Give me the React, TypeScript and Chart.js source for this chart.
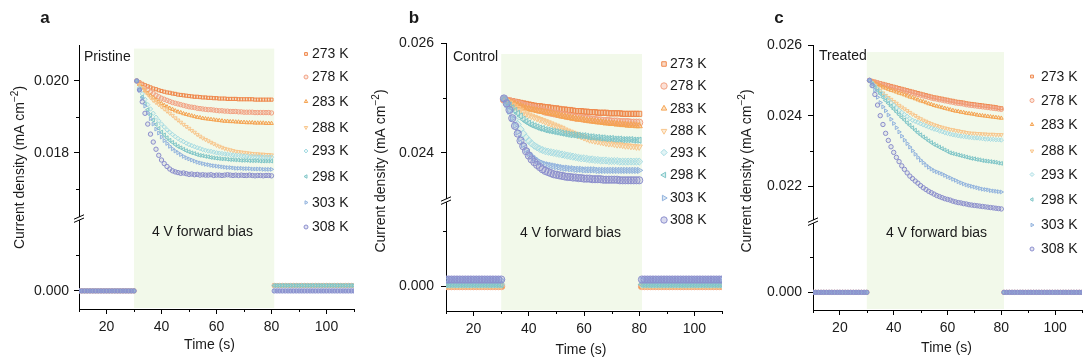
import React, { useEffect, useRef } from 'react';
import { Chart, registerables } from 'chart.js';
import { drawPoint } from 'chart.js/helpers';

Chart.register(...registerables);

const FONT = '"Liberation Sans", Arial, Helvetica, sans-serif';
const TEXT = '#1a1a1a';
const SHADE = '#F2F9EA';

// ---------- data ----------
const temperatureLabels = ['273 K', '278 K', '283 K', '288 K', '293 K', '298 K', '303 K', '308 K'];
const seriesColors = ['#EF884C', '#F2A283', '#F5A452', '#F8C68C', '#A8DCE3', '#80C6C8', '#93B4DE', '#8C8FCD'];
const markerStyles = ['rect', 'circle', 'triangle', 'triangle', 'rectRot', 'triangle', 'triangle', 'circle'];
const markerRotations = [0, 0, 0, 180, 0, -90, 90, 0];

const xTicks = [20, 40, 60, 80, 100];
const xMinorTicks = [10, 30, 50, 70, 90, 110];
const biasWindow = [30, 81];

const timeBefore = [10, 11, 12, 13, 14, 15, 16, 17, 18, 19, 20, 21, 22, 23, 24, 25, 26, 27, 28, 29, 30];
const timeBias = [
  31, 32, 33, 34, 35, 36, 37, 38, 39, 40, 41, 42, 43, 44, 45, 46, 47, 48, 49, 50,
  51, 52, 53, 54, 55, 56, 57, 58, 59, 60, 61, 62, 63, 64, 65, 66, 67, 68, 69, 70,
  71, 72, 73, 74, 75, 76, 77, 78, 79, 80,
];
const timeAfter = [
  81, 82, 83, 84, 85, 86, 87, 88, 89, 90, 91, 92, 93, 94, 95, 96, 97, 98, 99, 100,
  101, 102, 103, 104, 105, 106, 107, 108, 109, 110,
];

// current density during bias, in 10^-3 mA cm^-2
const pristine273 = [
  20.00, 19.96, 19.92, 19.88, 19.85, 19.82, 19.79, 19.77, 19.74, 19.72,
  19.70, 19.68, 19.67, 19.65, 19.64, 19.62, 19.61, 19.60, 19.59, 19.58,
  19.57, 19.56, 19.56, 19.55, 19.54, 19.54, 19.53, 19.53, 19.52, 19.52,
  19.51, 19.51, 19.51, 19.50, 19.50, 19.50, 19.50, 19.49, 19.49, 19.49,
  19.49, 19.49, 19.49, 19.48, 19.48, 19.48, 19.48, 19.48, 19.48, 19.48,
];
const pristine278 = [
  20.00, 19.93, 19.86, 19.80, 19.75, 19.69, 19.65, 19.60, 19.56, 19.52,
  19.49, 19.46, 19.43, 19.40, 19.38, 19.36, 19.34, 19.32, 19.30, 19.28,
  19.27, 19.26, 19.24, 19.23, 19.22, 19.21, 19.20, 19.20, 19.19, 19.18,
  19.17, 19.17, 19.16, 19.16, 19.15, 19.15, 19.15, 19.14, 19.14, 19.13,
  19.13, 19.13, 19.13, 19.12, 19.12, 19.12, 19.12, 19.12, 19.12, 19.11,
];
const pristine283 = [
  20.00, 19.90, 19.82, 19.73, 19.66, 19.59, 19.53, 19.47, 19.42, 19.37,
  19.32, 19.28, 19.24, 19.21, 19.17, 19.14, 19.12, 19.09, 19.07, 19.05,
  19.03, 19.01, 18.99, 18.98, 18.96, 18.95, 18.94, 18.93, 18.92, 18.91,
  18.90, 18.89, 18.88, 18.88, 18.87, 18.87, 18.86, 18.86, 18.85, 18.85,
  18.84, 18.84, 18.84, 18.83, 18.83, 18.83, 18.83, 18.82, 18.82, 18.82,
];
const pristine288 = [
  20.00, 19.90, 19.81, 19.72, 19.63, 19.54, 19.46, 19.40, 19.34, 19.28,
  19.22, 19.16, 19.10, 19.04, 18.97, 18.91, 18.85, 18.79, 18.73, 18.68,
  18.62, 18.57, 18.51, 18.46, 18.41, 18.37, 18.33, 18.29, 18.25, 18.21,
  18.18, 18.15, 18.12, 18.10, 18.08, 18.06, 18.04, 18.03, 18.02, 18.01,
  18.00, 17.99, 17.98, 17.97, 17.97, 17.96, 17.96, 17.95, 17.95, 17.94,
];
const pristine293 = [
  20.00, 19.81, 19.64, 19.49, 19.34, 19.22, 19.10, 18.99, 18.89, 18.80,
  18.72, 18.64, 18.57, 18.51, 18.45, 18.40, 18.35, 18.31, 18.27, 18.23,
  18.20, 18.17, 18.14, 18.12, 18.09, 18.07, 18.05, 18.04, 18.02, 18.00,
  17.99, 17.98, 17.97, 17.96, 17.95, 17.94, 17.93, 17.93, 17.92, 17.91,
  17.91, 17.90, 17.90, 17.89, 17.89, 17.89, 17.88, 17.88, 17.88, 17.88,
];
const pristine298 = [
  20.00, 19.76, 19.55, 19.37, 19.20, 19.05, 18.91, 18.79, 18.68, 18.58,
  18.50, 18.42, 18.35, 18.29, 18.23, 18.18, 18.14, 18.10, 18.06, 18.03,
  18.00, 17.98, 17.95, 17.93, 17.92, 17.90, 17.89, 17.87, 17.86, 17.85,
  17.84, 17.83, 17.83, 17.82, 17.81, 17.81, 17.80, 17.80, 17.79, 17.79,
  17.79, 17.78, 17.78, 17.78, 17.78, 17.77, 17.77, 17.77, 17.77, 17.77,
];
const pristine303 = [
  20.00, 19.74, 19.51, 19.30, 19.11, 18.95, 18.80, 18.66, 18.55, 18.44,
  18.34, 18.26, 18.18, 18.11, 18.05, 18.00, 17.95, 17.90, 17.86, 17.83,
  17.80, 17.77, 17.74, 17.72, 17.70, 17.68, 17.67, 17.65, 17.64, 17.63,
  17.62, 17.61, 17.60, 17.59, 17.59, 17.58, 17.57, 17.57, 17.57, 17.56,
  17.56, 17.56, 17.55, 17.55, 17.55, 17.55, 17.54, 17.54, 17.54, 17.54,
];
const pristine308 = [
  20.00, 19.75, 19.42, 19.10, 18.80, 18.52, 18.30, 18.10, 17.93, 17.80,
  17.70, 17.62, 17.55, 17.50, 17.47, 17.45, 17.43, 17.44, 17.42, 17.40,
  17.41, 17.39, 17.40, 17.38, 17.39, 17.38, 17.38, 17.39, 17.37, 17.38,
  17.38, 17.37, 17.38, 17.39, 17.38, 17.37, 17.38, 17.37, 17.38, 17.37,
  17.37, 17.38, 17.37, 17.36, 17.37, 17.37, 17.36, 17.37, 17.37, 17.36,
];

const control273 = [
  24.97, 24.96, 24.95, 24.94, 24.93, 24.92, 24.91, 24.90, 24.89, 24.88,
  24.87, 24.86, 24.85, 24.85, 24.84, 24.83, 24.83, 24.82, 24.81, 24.81,
  24.80, 24.79, 24.79, 24.78, 24.78, 24.77, 24.76, 24.76, 24.76, 24.75,
  24.75, 24.74, 24.74, 24.74, 24.73, 24.73, 24.73, 24.73, 24.72, 24.72,
  24.72, 24.72, 24.72, 24.71, 24.71, 24.71, 24.71, 24.71, 24.71, 24.71,
];
const control278 = [
  24.97, 24.95, 24.94, 24.92, 24.91, 24.89, 24.88, 24.86, 24.85, 24.83,
  24.82, 24.81, 24.79, 24.78, 24.77, 24.75, 24.74, 24.73, 24.72, 24.71,
  24.70, 24.69, 24.68, 24.67, 24.66, 24.65, 24.64, 24.64, 24.63, 24.62,
  24.62, 24.61, 24.60, 24.60, 24.59, 24.59, 24.58, 24.58, 24.58, 24.57,
  24.57, 24.57, 24.56, 24.56, 24.56, 24.56, 24.55, 24.55, 24.55, 24.55,
];
const control283 = [
  24.97, 24.95, 24.93, 24.91, 24.89, 24.87, 24.85, 24.83, 24.81, 24.80,
  24.79, 24.78, 24.77, 24.76, 24.75, 24.74, 24.73, 24.72, 24.71, 24.70,
  24.68, 24.67, 24.66, 24.65, 24.64, 24.63, 24.62, 24.61, 24.61, 24.60,
  24.59, 24.58, 24.58, 24.57, 24.56, 24.56, 24.55, 24.54, 24.54, 24.53,
  24.53, 24.52, 24.52, 24.51, 24.51, 24.50, 24.50, 24.50, 24.49, 24.49,
];
const control288 = [
  24.97, 24.94, 24.91, 24.87, 24.84, 24.81, 24.78, 24.74, 24.71, 24.69,
  24.67, 24.65, 24.63, 24.61, 24.59, 24.57, 24.55, 24.53, 24.51, 24.49,
  24.47, 24.45, 24.42, 24.40, 24.38, 24.36, 24.34, 24.32, 24.30, 24.28,
  24.26, 24.24, 24.23, 24.22, 24.21, 24.20, 24.19, 24.18, 24.17, 24.17,
  24.16, 24.15, 24.15, 24.14, 24.13, 24.13, 24.12, 24.12, 24.11, 24.11,
];
const control293 = [
  24.98, 24.90, 24.80, 24.70, 24.61, 24.52, 24.43, 24.35, 24.28, 24.22,
  24.17, 24.13, 24.10, 24.07, 24.05, 24.03, 24.02, 24.01, 24.00, 23.99,
  23.98, 23.97, 23.96, 23.95, 23.94, 23.93, 23.92, 23.91, 23.90, 23.90,
  23.89, 23.88, 23.88, 23.87, 23.87, 23.86, 23.86, 23.86, 23.85, 23.85,
  23.85, 23.85, 23.84, 23.84, 23.84, 23.84, 23.84, 23.84, 23.84, 23.84,
];
const control298 = [
  24.97, 24.92, 24.87, 24.82, 24.77, 24.72, 24.67, 24.61, 24.57, 24.54,
  24.51, 24.49, 24.47, 24.45, 24.44, 24.42, 24.41, 24.40, 24.39, 24.38,
  24.37, 24.36, 24.35, 24.34, 24.33, 24.33, 24.32, 24.32, 24.31, 24.31,
  24.30, 24.29, 24.29, 24.28, 24.28, 24.27, 24.27, 24.26, 24.26, 24.26,
  24.25, 24.25, 24.25, 24.24, 24.24, 24.24, 24.24, 24.23, 24.23, 24.23,
];
const control303 = [
  24.99, 24.88, 24.76, 24.63, 24.50, 24.38, 24.26, 24.15, 24.06, 23.99,
  23.94, 23.90, 23.86, 23.83, 23.81, 23.79, 23.78, 23.77, 23.76, 23.75,
  23.74, 23.73, 23.72, 23.72, 23.71, 23.71, 23.70, 23.70, 23.70, 23.69,
  23.69, 23.69, 23.69, 23.69, 23.68, 23.68, 23.68, 23.68, 23.68, 23.68,
  23.68, 23.68, 23.68, 23.68, 23.68, 23.68, 23.68, 23.68, 23.68, 23.68,
];
const control308 = [
  24.99, 24.90, 24.78, 24.63, 24.49, 24.35, 24.22, 24.12, 24.03, 23.95,
  23.88, 23.83, 23.78, 23.74, 23.70, 23.67, 23.65, 23.63, 23.61, 23.60,
  23.59, 23.58, 23.57, 23.56, 23.56, 23.55, 23.55, 23.54, 23.54, 23.53,
  23.53, 23.53, 23.52, 23.52, 23.52, 23.52, 23.51, 23.51, 23.51, 23.51,
  23.51, 23.51, 23.50, 23.50, 23.50, 23.50, 23.50, 23.50, 23.50, 23.50,
];

const treated273 = [
  25.00, 24.98, 24.96, 24.94, 24.92, 24.90, 24.88, 24.86, 24.84, 24.82,
  24.80, 24.78, 24.76, 24.74, 24.72, 24.70, 24.68, 24.66, 24.64, 24.62,
  24.60, 24.58, 24.56, 24.54, 24.52, 24.51, 24.49, 24.48, 24.46, 24.45,
  24.43, 24.42, 24.40, 24.39, 24.38, 24.37, 24.35, 24.34, 24.33, 24.32,
  24.31, 24.30, 24.29, 24.28, 24.27, 24.26, 24.25, 24.24, 24.22, 24.21,
];
const treated278 = [
  25.00, 24.97, 24.95, 24.92, 24.90, 24.87, 24.85, 24.83, 24.80, 24.78,
  24.76, 24.74, 24.72, 24.70, 24.68, 24.66, 24.64, 24.62, 24.60, 24.58,
  24.56, 24.54, 24.52, 24.50, 24.48, 24.47, 24.45, 24.44, 24.42, 24.41,
  24.39, 24.38, 24.36, 24.35, 24.34, 24.33, 24.31, 24.30, 24.29, 24.28,
  24.27, 24.26, 24.25, 24.24, 24.23, 24.22, 24.21, 24.20, 24.19, 24.18,
];
const treated283 = [
  25.00, 24.96, 24.92, 24.88, 24.85, 24.81, 24.78, 24.75, 24.72, 24.70,
  24.67, 24.64, 24.62, 24.59, 24.56, 24.53, 24.51, 24.48, 24.45, 24.42,
  24.40, 24.37, 24.34, 24.32, 24.29, 24.27, 24.25, 24.23, 24.21, 24.19,
  24.17, 24.15, 24.13, 24.12, 24.10, 24.09, 24.07, 24.06, 24.05, 24.04,
  24.02, 24.01, 24.00, 23.99, 23.98, 23.97, 23.96, 23.95, 23.94, 23.93,
];
const treated288 = [
  25.00, 24.93, 24.86, 24.78, 24.71, 24.64, 24.57, 24.51, 24.46, 24.40,
  24.35, 24.29, 24.24, 24.19, 24.14, 24.09, 24.04, 24.00, 23.95, 23.91,
  23.87, 23.84, 23.80, 23.77, 23.74, 23.72, 23.69, 23.67, 23.65, 23.63,
  23.61, 23.60, 23.58, 23.57, 23.55, 23.54, 23.52, 23.51, 23.50, 23.50,
  23.49, 23.49, 23.48, 23.48, 23.47, 23.47, 23.47, 23.46, 23.46, 23.46,
];
const treated293 = [
  25.00, 24.92, 24.84, 24.76, 24.68, 24.60, 24.52, 24.45, 24.37, 24.30,
  24.22, 24.15, 24.09, 24.03, 23.98, 23.92, 23.87, 23.84, 23.81, 23.77,
  23.74, 23.71, 23.68, 23.65, 23.62, 23.60, 23.57, 23.55, 23.52, 23.50,
  23.48, 23.46, 23.45, 23.43, 23.42, 23.41, 23.40, 23.39, 23.38, 23.37,
  23.37, 23.36, 23.35, 23.34, 23.34, 23.33, 23.33, 23.32, 23.32, 23.31,
];
const treated298 = [
  25.00, 24.90, 24.80, 24.71, 24.62, 24.52, 24.43, 24.35, 24.27, 24.19,
  24.11, 24.03, 23.95, 23.88, 23.80, 23.73, 23.66, 23.59, 23.52, 23.46,
  23.40, 23.35, 23.29, 23.24, 23.19, 23.15, 23.11, 23.07, 23.03, 22.99,
  22.95, 22.93, 22.91, 22.89, 22.87, 22.85, 22.83, 22.81, 22.79, 22.78,
  22.76, 22.75, 22.73, 22.72, 22.71, 22.70, 22.69, 22.68, 22.66, 22.65,
];
const treated303 = [
  25.00, 24.88, 24.72, 24.52, 24.37, 24.25, 24.14, 24.02, 23.90, 23.78,
  23.66, 23.54, 23.42, 23.31, 23.21, 23.11, 23.01, 22.91, 22.82, 22.74,
  22.67, 22.60, 22.54, 22.49, 22.44, 22.41, 22.38, 22.35, 22.31, 22.27,
  22.24, 22.20, 22.17, 22.13, 22.10, 22.07, 22.04, 22.02, 22.00, 21.98,
  21.96, 21.94, 21.92, 21.91, 21.90, 21.88, 21.87, 21.86, 21.85, 21.84,
];
const treated308 = [
  25.00, 24.85, 24.60, 24.30, 24.00, 23.75, 23.50, 23.30, 23.12, 22.96,
  22.82, 22.70, 22.58, 22.48, 22.38, 22.29, 22.22, 22.15, 22.09, 22.02,
  21.96, 21.91, 21.86, 21.82, 21.78, 21.74, 21.71, 21.68, 21.65, 21.63,
  21.61, 21.58, 21.56, 21.54, 21.53, 21.51, 21.50, 21.48, 21.47, 21.46,
  21.45, 21.44, 21.43, 21.42, 21.41, 21.40, 21.39, 21.38, 21.37, 21.36,
];

// resting (bias off) current levels per temperature, in 10^-3 mA cm^-2
const pristineBeforeLevel = [0, 0, 0, 0, 0, 0, 0, 0];
const pristineAfterLevel = [0.15, 0.15, 0.15, 0.15, 0.15, 0.15, 0, 0];
const controlBeforeLevel = [0, 0, 0, 0, 0.03, 0.03, 0.11, 0.12];
const controlAfterLevel = [0, 0, 0, 0, 0.03, 0.03, 0.11, 0.12];
const treatedBeforeLevel = [0, 0, 0, 0, 0, 0, 0, 0];
const treatedAfterLevel = [0, 0, 0, 0, 0, 0, 0, 0];

// ---------- panel layout ----------
type PanelCfg = {
  letter: string; label: string; left: number; width: number;
  yWidth: number; padRight: number; padTop: number; xHeight: number; yLabelPad: number;
  topMin: number; topMax: number; topMajor: number[]; topMinor: number[];
  botMin: number; botMax: number; botMajor: number[]; botMinor: number[];
  topWeight: number; botWeight: number; shadeTop: number;
  series: number[][]; beforeLevel: number[]; afterLevel: number[];
  markerRadius: number; legendRadius: number; fillAlpha: number;
  legendX: number; legendTextX: number; legendY: number[];
  letterPos: [number, number]; labelPos: [number, number]; biasPos: [number, number];
  yTitlePos: [number, number]; xTitlePos: [number, number];
};

const panels: PanelCfg[] = [
  {
    letter: 'a', label: 'Pristine', left: 0, width: 362,
    yWidth: 79, padRight: 8, padTop: 45, xHeight: 55, yLabelPad: 5,
    topMin: 0.01617, topMax: 0.021, topMajor: [0.018, 0.020], topMinor: [0.017, 0.019],
    botMin: -0.0005, botMax: 0.002, botMajor: [0], botMinor: [0.001],
    topWeight: 172.8, botWeight: 90, shadeTop: 0.0209,
    series: [pristine273, pristine278, pristine283, pristine288, pristine293, pristine298, pristine303, pristine308],
    beforeLevel: pristineBeforeLevel, afterLevel: pristineAfterLevel,
    markerRadius: 2.2, legendRadius: 2, fillAlpha: 0.15,
    legendX: 306, legendTextX: 312, legendY: [54, 77, 101.5, 127.5, 151, 176.5, 202.5, 227],
    letterPos: [45, 18], labelPos: [84, 57], biasPos: [202.5, 232],
    yTitlePos: [20, 167.5], xTitlePos: [209.5, 345],
  },
  {
    letter: 'b', label: 'Control', left: 362, width: 365,
    yWidth: 84, padRight: 2, padTop: 43, xHeight: 53, yLabelPad: 7,
    topMin: 0.02313, topMax: 0.026, topMajor: [0.024, 0.026], topMinor: [0.025],
    botMin: -0.00045, botMax: 0.00155, botMajor: [0], botMinor: [0.001],
    topWeight: 157, botWeight: 110, shadeTop: 0.0258,
    series: [control273, control278, control283, control288, control293, control298, control303, control308],
    beforeLevel: controlBeforeLevel, afterLevel: controlAfterLevel,
    markerRadius: 3.6, legendRadius: 3.2, fillAlpha: 0.22,
    legendX: 302, legendTextX: 308, legendY: [64, 86, 108.5, 131, 152.5, 175, 198, 220],
    letterPos: [52, 18], labelPos: [91, 57], biasPos: [208.5, 233],
    yTitlePos: [19, 171], xTitlePos: [219, 350],
  },
  {
    letter: 'c', label: 'Treated', left: 727, width: 360,
    yWidth: 86, padRight: 0, padTop: 45, xHeight: 54, yLabelPad: 6,
    topMin: 0.021, topMax: 0.026, topMajor: [0.022, 0.024, 0.026], topMinor: [0.023, 0.025],
    botMin: -0.0005, botMax: 0.002, botMajor: [0], botMinor: [0.001],
    topWeight: 175, botWeight: 87.5, shadeTop: 0.0258,
    series: [treated273, treated278, treated283, treated288, treated293, treated298, treated303, treated308],
    beforeLevel: treatedBeforeLevel, afterLevel: treatedAfterLevel,
    markerRadius: 2.2, legendRadius: 2, fillAlpha: 0.15,
    legendX: 305, legendTextX: 314, legendY: [76.5, 100.5, 124.5, 151, 174.5, 199.5, 225, 249],
    letterPos: [52, 18], labelPos: [92, 56], biasPos: [209.5, 233],
    yTitlePos: [20.5, 171], xTitlePos: [219.5, 348],
  },
];

function withAlpha(hex: string, a: number) {
  const n = parseInt(hex.slice(1), 16);
  return `rgba(${(n >> 16) & 255},${(n >> 8) & 255},${n & 255},${a})`;
}

function decorPlugin(p: PanelCfg) {
  return {
    id: 'decor',
    beforeDraw(chart: any) {
      const { ctx, chartArea } = chart;
      const x = chart.scales.x;
      const yT = chart.scales.yTop;
      const l = x.getPixelForValue(biasWindow[0]);
      const r = x.getPixelForValue(biasWindow[1]);
      const t = yT.getPixelForValue(p.shadeTop);
      ctx.save();
      ctx.fillStyle = SHADE;
      ctx.fillRect(l, t, r - l, chartArea.bottom - 1 - t);
      ctx.restore();
    },
    afterDraw(chart: any) {
      const { ctx, chartArea } = chart;
      const x = chart.scales.x;
      const yT = chart.scales.yTop;
      const yB = chart.scales.yBottom;
      const x0 = chartArea.left;
      ctx.save();
      // minor ticks
      ctx.strokeStyle = '#000';
      ctx.lineWidth = 1;
      ctx.beginPath();
      for (const v of p.topMinor) {
        const py = Math.round(yT.getPixelForValue(v)) + 0.5;
        ctx.moveTo(x0, py); ctx.lineTo(x0 - 3, py);
      }
      for (const v of p.botMinor) {
        const py = Math.round(yB.getPixelForValue(v)) + 0.5;
        ctx.moveTo(x0, py); ctx.lineTo(x0 - 3, py);
      }
      for (const v of xMinorTicks) {
        const px = Math.round(x.getPixelForValue(v)) + 0.5;
        ctx.moveTo(px, chartArea.bottom); ctx.lineTo(px, chartArea.bottom + 3);
      }
      ctx.stroke();
      // axis break
      const yb = yT.bottom;
      ctx.fillStyle = '#fff';
      ctx.fillRect(x0 - 1.5, yb - 1.5, 3, 3);
      ctx.beginPath();
      for (const d of [-1.6, 1.6]) {
        ctx.moveTo(x0 - 5, yb + d + 2.2);
        ctx.lineTo(x0 + 5, yb + d - 2.2);
      }
      ctx.stroke();

      // texts
      ctx.fillStyle = TEXT;
      ctx.textBaseline = 'middle';
      ctx.font = `bold 17px ${FONT}`;
      ctx.textAlign = 'center';
      ctx.fillText(p.letter, p.letterPos[0], p.letterPos[1]);
      ctx.font = `14px ${FONT}`;
      ctx.textAlign = 'left';
      ctx.fillText(p.label, p.labelPos[0], p.labelPos[1]);
      ctx.textAlign = 'center';
      ctx.fillText('4 V forward bias', p.biasPos[0], p.biasPos[1]);
      ctx.fillText('Time (s)', p.xTitlePos[0], p.xTitlePos[1]);

      // y title with superscript
      ctx.save();
      ctx.translate(p.yTitlePos[0], p.yTitlePos[1]);
      ctx.rotate(-Math.PI / 2);
      ctx.textAlign = 'left';
      const main = 'Current density (mA cm';
      const sup = '\u22122';
      const close = ')';
      ctx.font = `14px ${FONT}`;
      const wMain = ctx.measureText(main).width;
      const wClose = ctx.measureText(close).width;
      ctx.font = `10px ${FONT}`;
      const wSup = ctx.measureText(sup).width;
      const start = -(wMain + wSup + wClose) / 2;
      ctx.font = `14px ${FONT}`;
      ctx.fillText(main, start, 0);
      ctx.fillText(close, start + wMain + wSup, 0);
      ctx.font = `10px ${FONT}`;
      ctx.fillText(sup, start + wMain, -5);
      ctx.restore();

      // legend
      ctx.font = `14px ${FONT}`;
      ctx.textAlign = 'left';
      for (let i = 0; i < temperatureLabels.length; i++) {
        const ly = p.legendY[i];
        ctx.fillStyle = withAlpha(seriesColors[i], p.fillAlpha + 0.1);
        ctx.strokeStyle = seriesColors[i];
        ctx.lineWidth = 1;
        drawPoint(ctx, { pointStyle: markerStyles[i] as any, rotation: markerRotations[i], radius: p.legendRadius, borderWidth: 1 }, p.legendX, ly);
        ctx.fillStyle = TEXT;
        ctx.fillText(temperatureLabels[i], p.legendTextX, ly + 0.5);
      }
      ctx.restore();
    },
  };
}

function buildConfig(p: PanelCfg): any {
  const datasets: any[] = [];
  for (let i = 0; i < temperatureLabels.length; i++) {
    const color = seriesColors[i];
    const common = {
      showLine: false,
      pointStyle: markerStyles[i],
      pointRotation: markerRotations[i],
      pointRadius: p.markerRadius,
      pointBorderWidth: 1,
      borderColor: color,
      pointBorderColor: color,
      backgroundColor: withAlpha(color, p.fillAlpha),
      pointBackgroundColor: withAlpha(color, p.fillAlpha),
      order: temperatureLabels.length - i,
    };
    datasets.push({
      ...common,
      label: temperatureLabels[i],
      yAxisID: 'yTop',
      data: p.series[i].map((v, k) => ({ x: timeBias[k], y: v / 1000 })),
    });
    datasets.push({
      ...common,
      label: temperatureLabels[i] + ' (bias off)',
      yAxisID: 'yBottom',
      data: [
        ...timeBefore.map((t) => ({ x: t, y: p.beforeLevel[i] / 1000 })),
        ...timeAfter.map((t) => ({ x: t, y: p.afterLevel[i] / 1000 })),
      ],
    });
  }
  const tickFont = { family: FONT, size: 14 };
  const yCommon = (weight: number) => ({
    type: 'linear',
    position: 'left',
    stack: 'y',
    offset: false,
    weight,
    grid: { display: true, drawOnChartArea: false, drawTicks: true, tickLength: 5, tickColor: '#000', tickWidth: 1 },
    border: { display: true, color: '#000', width: 1 },
    ticks: { font: tickFont, color: TEXT, padding: p.yLabelPad, autoSkip: false, callback: (v: any) => Number(v).toFixed(3) },
    afterFit: (s: any) => { s.width = p.yWidth; },
  });
  return {
    type: 'scatter',
    data: { datasets },
    options: {
      animation: false,
      responsive: false,
      maintainAspectRatio: false,
      devicePixelRatio: 1,
      events: [],
      layout: { padding: { left: 0, right: p.padRight, top: p.padTop, bottom: 0 } },
      plugins: { legend: { display: false }, tooltip: { enabled: false }, title: { display: false } },
      scales: {
        x: {
          type: 'linear',
          position: 'bottom',
          min: 10,
          max: 110,
          afterBuildTicks: (s: any) => { s.ticks = xTicks.map((v) => ({ value: v })); },
          grid: { display: true, drawOnChartArea: false, drawTicks: true, tickLength: 5, tickColor: '#000' },
          border: { display: true, color: '#000', width: 1 },
          ticks: { font: tickFont, color: TEXT, padding: 5, maxRotation: 0, autoSkip: false, callback: (v: any) => String(v) },
          afterFit: (s: any) => { s.height = p.xHeight; },
        },
        yTop: {
          ...yCommon(2),
          stackWeight: p.topWeight,
          min: p.topMin,
          max: p.topMax,
          afterBuildTicks: (s: any) => { s.ticks = p.topMajor.map((v) => ({ value: v })); },
        },
        yBottom: {
          ...yCommon(1),
          stackWeight: p.botWeight,
          min: p.botMin,
          max: p.botMax,
          afterBuildTicks: (s: any) => { s.ticks = p.botMajor.map((v) => ({ value: v })); },
        },
      },
    },
    plugins: [decorPlugin(p)],
  };
}

function Panel({ cfg }: { cfg: PanelCfg }) {
  const ref = useRef<HTMLCanvasElement | null>(null);
  useEffect(() => {
    if (!ref.current) return;
    const chart = new Chart(ref.current, buildConfig(cfg));
    return () => chart.destroy();
  }, [cfg]);
  return (
    <canvas
      ref={ref}
      width={cfg.width}
      height={364}
      style={{ position: 'absolute', left: cfg.left, top: 0, width: cfg.width, height: 364 }}
    />
  );
}

export default function App() {
  return (
    <div style={{ position: 'absolute', left: 0, top: 0, width: 1087, height: 364, background: '#fff', overflow: 'hidden' }}>
      {panels.map((p) => (
        <Panel key={p.letter} cfg={p} />
      ))}
    </div>
  );
}
